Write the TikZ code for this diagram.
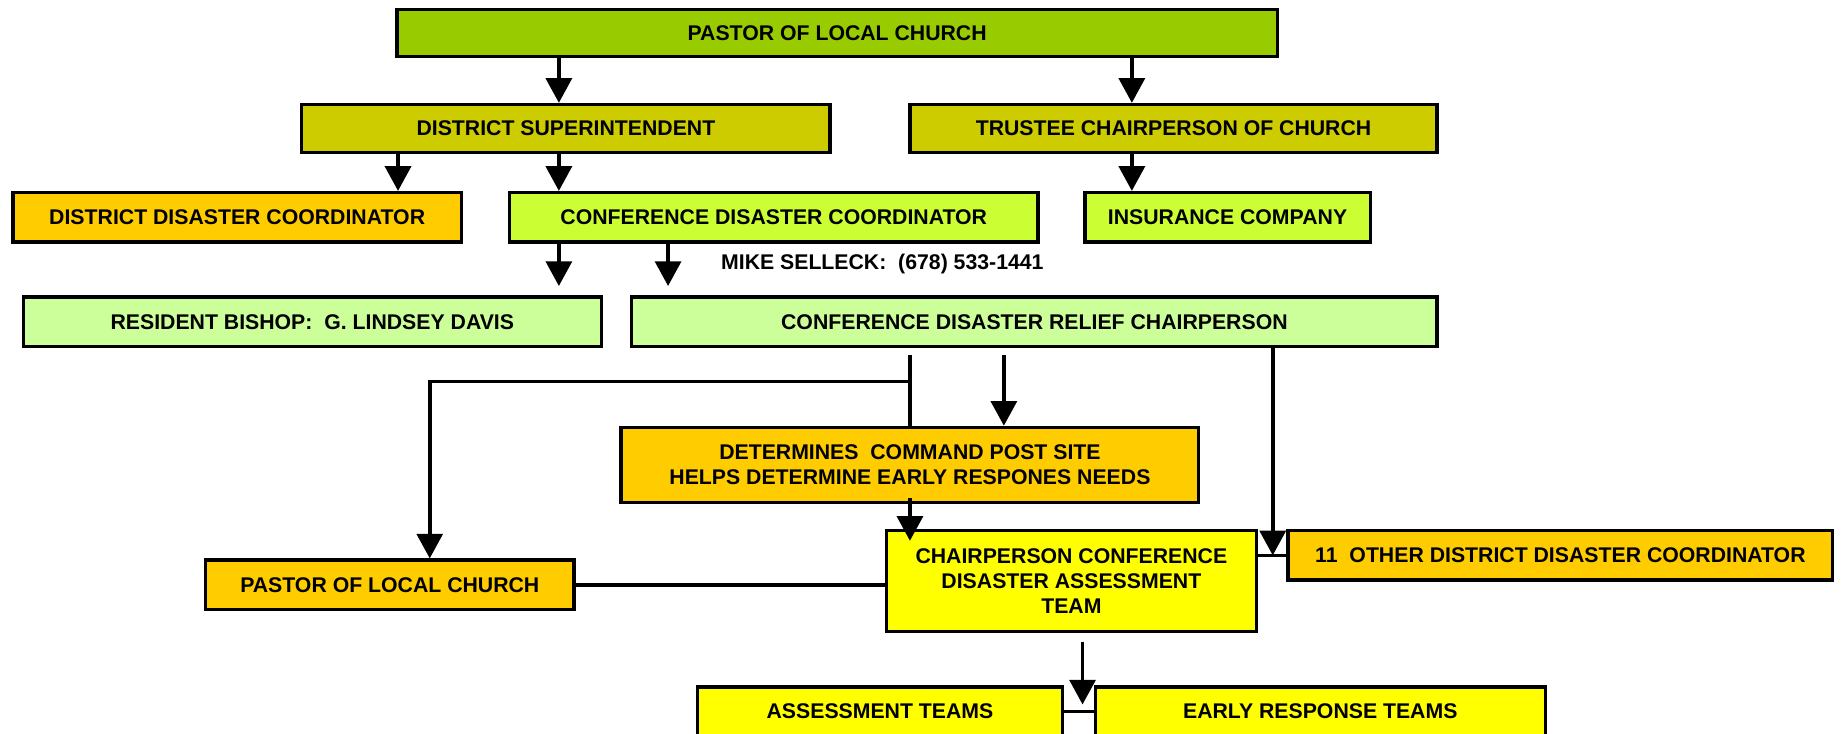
\documentclass[tikz,border=0pt]{standalone}
\usepackage{fontspec}
\setmainfont{Liberation Sans}
\usetikzlibrary{arrows.meta}
\definecolor{cgreen}{HTML}{99CC00}
\definecolor{colive}{HTML}{CCCC00}
\definecolor{corange}{HTML}{FFCC00}
\definecolor{clime}{HTML}{CCFF33}
\definecolor{cpale}{HTML}{CCFF99}
\definecolor{cyel}{HTML}{FFFF00}
\begin{document}
\begin{tikzpicture}[n/.style={draw=black,line width=1.6pt,inner sep=0pt,align=center},
            ln/.style={line width=1.8pt},
            arr/.style={-{Triangle[length=4.2mm,width=4.4mm]},line width=1.8pt},
            every node/.style={font=\fontsize{10.3}{12.3}\selectfont\bfseries}]
            \useasboundingbox (0,0) rectangle (31.36,-12.5);

            \node[n,fill=cgreen,minimum width=15cm,minimum height=8mm] (1) at (14.26,-0.56) {PASTOR OF LOCAL CHURCH};
            \node[n,fill=colive,minimum width=9cm,minimum height=8.2mm] (2) at (9.64,-2.19) {DISTRICT SUPERINTENDENT};
            \node[n,fill=colive,minimum width=8.98cm,minimum height=8.2mm] (3) at (19.99,-2.19) {TRUSTEE CHAIRPERSON OF CHURCH};
            \node[n,fill=corange,minimum width=7.64cm,minimum height=8.4mm] (4) at (4.04,-3.70) {DISTRICT DISASTER COORDINATOR};
            \node[n,fill=clime,minimum width=9cm,minimum height=8.4mm] (5) at (13.18,-3.70) {CONFERENCE DISASTER COORDINATOR};
            \node[n,fill=clime,minimum width=4.86cm,minimum height=8.4mm] (6) at (20.91,-3.70) {INSURANCE COMPANY};
            \node (7) at (15.03,-4.50) {MIKE SELLECK:\ \ (678) 533-1441};
            \node[n,fill=cpale,minimum width=9.84cm,minimum height=8.4mm] (8) at (5.32,-5.48) {RESIDENT BISHOP:\ \ G. LINDSEY DAVIS};
            \node[n,fill=cpale,minimum width=13.72cm,minimum height=8.4mm] (9) at (17.62,-5.48) {CONFERENCE DISASTER RELIEF CHAIRPERSON};
            \node[n,fill=corange,minimum width=9.84cm,minimum height=12.8mm] (10) at (15.5,-7.92) {DETERMINES\ \ COMMAND POST SITE\\HELPS DETERMINE EARLY RESPONES NEEDS};
            \node[n,fill=cyel,minimum width=6.3cm,minimum height=17.2mm] (11) at (18.25,-9.90) {CHAIRPERSON CONFERENCE\\DISASTER ASSESSMENT\\TEAM};
            \node[n,fill=corange,minimum width=9.28cm,minimum height=8.4mm] (12) at (26.58,-9.46) {11\ \ OTHER DISTRICT DISASTER COORDINATOR};
            \node[n,fill=corange,minimum width=6.28cm,minimum height=8.4mm] (13) at (6.64,-9.96) {PASTOR OF LOCAL CHURCH};
            \node[n,fill=cyel,minimum width=6.22cm,minimum height=8.4mm] (14) at (14.99,-12.12) {ASSESSMENT TEAMS};
            \node[n,fill=cyel,minimum width=7.66cm,minimum height=8.4mm] (15) at (22.49,-12.12) {EARLY RESPONSE TEAMS};

            \coordinate (j) at (15.5,-6.5);

            \draw[arr] (1.south -| 9.52,0) to (2.north -| 9.52,0);
            \draw[arr] (1.south -| 19.28,0) to (3.north -| 19.28,0);

            \draw[arr] (2.south -| 6.78,0) to (4.north -| 6.78,0);
            \draw[arr] (2.south -| 9.52,0) to (5.north -| 9.52,0);
            \draw[arr] (3.south -| 19.28,0) to (6.north -| 19.28,0);

            \draw[arr,shorten >=1.6mm] (5.south -| 9.52,0) to (8.north -| 9.52,0);
            \draw[arr,shorten >=1.6mm] (5.south -| 11.38,0) to (9.north -| 11.38,0);

            \draw[arr,shorten <=1.2mm] (9.south -| 17.10,0) to (10.north -| 17.10,0);
            \draw[ln,shorten <=1.2mm] (9.south -| j) to (10.north);
            \draw[arr] (j) -| (13.north -| 7.32,0);
            \draw[arr] (9.south -| 21.68,0) to (12.west -| 21.68,0);

            \draw[arr,shorten <=-1mm,shorten >=-2mm] (10.south) to (11.north -| 10.south);
            \draw[ln] (11.east |- 12.west) to (12.west);
            \draw[ln] (13.east) to (11.west |- 13.east);

            \draw[arr,shorten <=1.4mm,shorten >=1.2mm] (11.south -| 18.44,0) to (14.east -| 18.44,0);
            \draw[ln] (14.east) to (15.west);
        \end{tikzpicture}
\end{document}
